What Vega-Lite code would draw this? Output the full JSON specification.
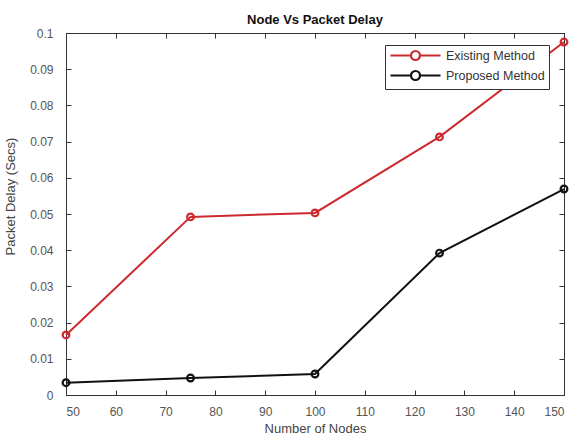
{
  "$schema": "https://vega.github.io/schema/vega-lite/v6.json",
  "width": 498,
  "height": 362,
  "autosize": {"type": "none"},
  "padding": {"left": 66, "top": 33, "right": 10, "bottom": 47},
  "background": "white",
  "title": {"text": "Node Vs Packet Delay", "font": "Liberation Sans", "fontSize": 13, "fontWeight": "bold", "color": "#111", "offset": 0},
  "config": {
    "view": {"stroke": "#333", "strokeWidth": 1},
    "axis": {"labelFont": "Liberation Sans", "titleFont": "Liberation Sans", "labelFontSize": 12, "titleFontSize": 13, "titleFontWeight": "normal", "labelColor": "#555", "titleColor": "#444", "domainColor": "#333", "tickColor": "#333", "grid": false, "tickSize": -5}
  },
  "data": {"values": [
    {"nodes": 50, "delay": 0.0166, "method": "Existing Method"},
    {"nodes": 75, "delay": 0.0492, "method": "Existing Method"},
    {"nodes": 100, "delay": 0.0503, "method": "Existing Method"},
    {"nodes": 125, "delay": 0.0713, "method": "Existing Method"},
    {"nodes": 150, "delay": 0.0975, "method": "Existing Method"},
    {"nodes": 50, "delay": 0.0034, "method": "Proposed Method"},
    {"nodes": 75, "delay": 0.0047, "method": "Proposed Method"},
    {"nodes": 100, "delay": 0.0058, "method": "Proposed Method"},
    {"nodes": 125, "delay": 0.0392, "method": "Proposed Method"},
    {"nodes": 150, "delay": 0.0569, "method": "Proposed Method"}
  ]},
  "layer": [
    {
      "mark": {"type": "line", "opacity": 0},
      "encoding": {
        "x": {"field": "nodes", "type": "quantitative", "scale": {"domain": [50, 150], "nice": false}, "axis": {"orient": "top", "labels": false, "title": null, "values": [50,60,70,80,90,100,110,120,130,140,150]}},
        "y": {"field": "delay", "type": "quantitative", "scale": {"domain": [0, 0.1], "nice": false}, "axis": {"orient": "right", "labels": false, "title": null, "values": [0,0.01,0.02,0.03,0.04,0.05,0.06,0.07,0.08,0.09,0.1]}},
        "detail": {"field": "method"}
      }
    },
    {
      "mark": {"type": "line", "strokeWidth": 2, "point": {"filled": false, "size": 45, "strokeWidth": 2.2}},
      "encoding": {
        "x": {"field": "nodes", "type": "quantitative", "scale": {"domain": [50, 150], "nice": false}, "axis": {"orient": "bottom", "title": "Number of Nodes", "labelPadding": 16, "titlePadding": 5, "values": [50,60,70,80,90,100,110,120,130,140,150]}},
        "y": {"field": "delay", "type": "quantitative", "scale": {"domain": [0, 0.1], "nice": false}, "axis": {"orient": "left", "title": "Packet Delay (Secs)", "labelPadding": 18, "titlePadding": 12, "titleY": 163, "format": "~g", "values": [0,0.01,0.02,0.03,0.04,0.05,0.06,0.07,0.08,0.09,0.1]}},
        "color": {"field": "method", "type": "nominal", "scale": {"domain": ["Existing Method", "Proposed Method"], "range": ["#cc2a2f", "#111111"]},
          "legend": {"title": null, "orient": "none", "legendX": 319, "legendY": 12, "strokeColor": "#333", "fillColor": "white", "padding": 4, "labelFont": "Liberation Sans", "labelFontSize": 12.5, "labelColor": "#333", "symbolType": "M-1,0H3.1M4.9,0H9M4.9,0A0.9,0.9 0 1 1 3.1,0A0.9,0.9 0 1 1 4.9,0Z", "symbolSize": 100, "symbolStrokeWidth": 2.2, "symbolFillColor": "transparent", "labelOffset": 44, "rowPadding": 1}}
      }
    }
  ],
  "resolve": {"axis": {"x": "independent", "y": "independent"}}
}
